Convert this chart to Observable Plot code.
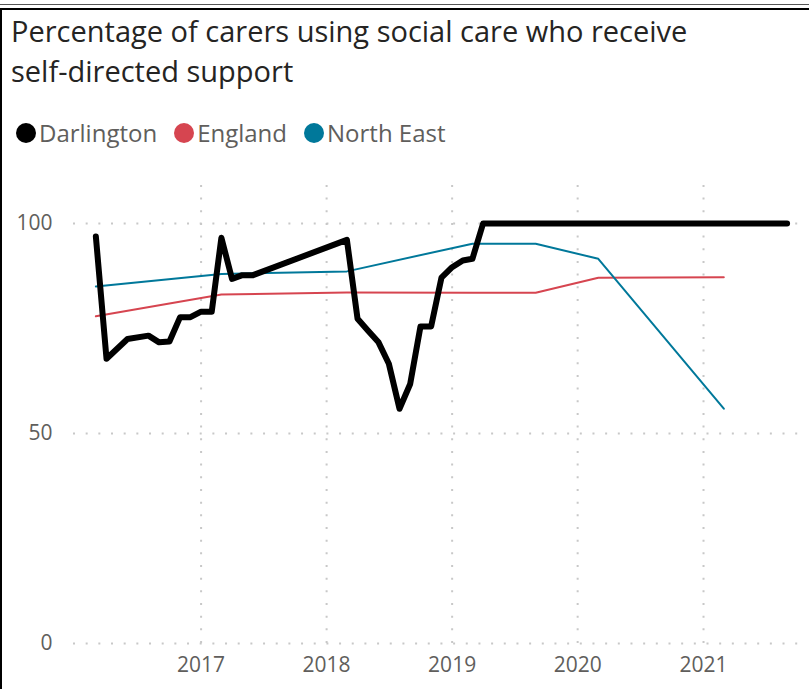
<!DOCTYPE html>
<html>
<head>
<meta charset="utf-8">
<script src="https://cdn.jsdelivr.net/npm/d3@7"></script>
<script src="https://cdn.jsdelivr.net/npm/@observablehq/plot@0.6"></script>
<style>
  html, body { margin: 0; padding: 0; background: #fff; }
  body { width: 809px; height: 689px; position: relative; overflow: hidden; font-family: "Open Sans", sans-serif; }
  .rule1 { position: absolute; left: 0; top: 4px; width: 809px; height: 1px; background: #555; }
  .rule2 { position: absolute; left: 0; top: 8px; width: 809px; height: 2px; background: #000; }
  .ruleL { position: absolute; left: 0; top: 8px; width: 2px; height: 681px; background: #000; }
  #title { position: absolute; left: 11px; top: 11px; font-size: 29px; line-height: 40px; color: #252423; }
  #legend { position: absolute; left: 16px; top: 116px; display: flex; align-items: center; font-size: 24px; color: #605E5C; }
  #legend .item { display: flex; align-items: center; margin-right: 17px; }
  #legend .dot { width: 20px; height: 20px; border-radius: 50%; margin-right: 3px; }
  #chart { position: absolute; left: 0; top: 160px; }
</style>
</head>
<body>
<div class="rule1"></div>
<div class="rule2"></div>
<div class="ruleL"></div>
<div id="title">Percentage of carers using social care who receive<br>self-directed support</div>
<div id="legend"></div>
<div id="chart"></div>
<script>
const seriesNames = ["Darlington", "England", "North East"];
const seriesColors = ["#000000", "#D64550", "#00789A"];

const darlingtonMonths = ["2016-03","2016-04","2016-06","2016-08","2016-09","2016-10","2016-11","2016-12",
  "2017-01","2017-02","2017-03","2017-04","2017-05","2017-06","2018-03","2018-04","2018-05","2018-06",
  "2018-07","2018-08","2018-09","2018-10","2018-11","2018-12","2019-01","2019-02","2019-03","2019-04","2021-09"];
const darlingtonValues = [96.9, 67.8, 72.5, 73.3, 71.7, 71.9, 77.7, 77.7,
  79.0, 79.0, 96.6, 86.8, 87.7, 87.7, 96.1, 77.3, 74.5, 71.7,
  66.6, 55.9, 61.8, 75.5, 75.5, 87.1, 89.6, 91.2, 91.6, 100, 100];

const regionMonths = ["2016-03","2017-03","2018-03","2019-03","2019-09","2020-03","2021-03"];
const englandValues = [77.9, 83.1, 83.6, 83.5, 83.5, 87.1, 87.2];
const northEastValues = [85.0, 88.0, 88.6, 95.2, 95.2, 91.6, 55.9];

const yTicks = [0, 50, 100];
const xTickLabels = ["2017", "2018", "2019", "2020", "2021"];

const parse = d3.utcParse("%Y-%m");
const darlington = darlingtonMonths.map((m, i) => ({date: parse(m), value: darlingtonValues[i]}));
const england = regionMonths.map((m, i) => ({date: parse(m), value: englandValues[i]}));
const northEast = regionMonths.map((m, i) => ({date: parse(m), value: northEastValues[i]}));
const xTicks = xTickLabels.map(y => d3.utcParse("%Y")(y));

// legend
const legend = document.getElementById("legend");
seriesNames.forEach((name, i) => {
  const item = document.createElement("div");
  item.className = "item";
  item.innerHTML = `<span class="dot" style="background:${seriesColors[i]}"></span><span>${name}</span>`;
  legend.appendChild(item);
});

const chart = Plot.plot({
  width: 809,
  height: 529,
  marginTop: 21,
  marginBottom: 46,
  marginLeft: 73,
  marginRight: 9,
  style: {fontFamily: "'Open Sans', sans-serif", fontSize: "21px", color: "#605E5C", background: "transparent"},
  x: {type: "utc", domain: [new Date(Date.UTC(2015, 11, 27)), new Date(Date.UTC(2021, 9, 10))], label: null},
  y: {domain: [0, 110], label: null},
  marks: [
    Plot.ruleX(xTicks, {x: d => d, y1: 0, y2: 110, stroke: "#c8c8c8", strokeWidth: 2, strokeDasharray: "2,10.67"}),
    Plot.ruleY(yTicks, {y: d => d, stroke: "#c8c8c8", strokeWidth: 2, strokeDasharray: "2,10.67"}),
    Plot.axisX(xTicks, {tickSize: 0, tickPadding: 14, tickFormat: d3.utcFormat("%Y"), fill: "#605E5C"}),
    Plot.axisY(yTicks, {tickSize: 0, tickPadding: 21, fill: "#605E5C"}),
    Plot.line(england, {x: "date", y: "value", stroke: seriesColors[1], strokeWidth: 2}),
    Plot.line(northEast, {x: "date", y: "value", stroke: seriesColors[2], strokeWidth: 2}),
    Plot.line(darlington, {x: "date", y: "value", stroke: seriesColors[0], strokeWidth: 6, strokeLinejoin: "round", strokeLinecap: "round"})
  ]
});
document.getElementById("chart").appendChild(chart);
</script>
</body>
</html>
